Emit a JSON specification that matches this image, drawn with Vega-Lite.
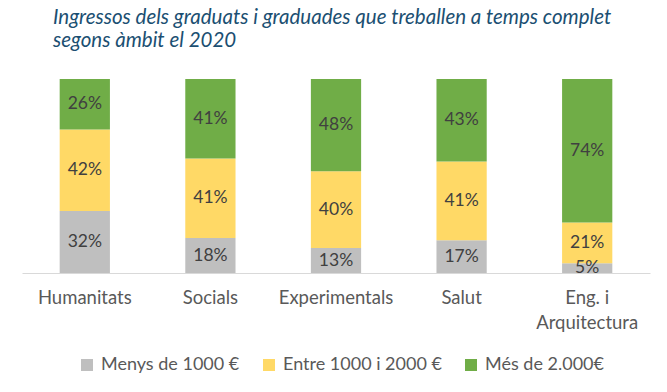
{
  "$schema": "https://vega.github.io/schema/vega-lite/v6.json",
  "width": 628,
  "height": 194,
  "autosize": {"type": "none"},
  "padding": {"left": 22, "top": 79, "right": 17, "bottom": 119},
  "background": "white",
  "config": {
    "font": "Lato",
    "view": {"stroke": null}
  },
  "title": {
    "text": ["Ingressos dels graduats i graduades que treballen a temps complet", "segons àmbit el 2020"],
    "anchor": "start",
    "frame": "group",
    "dx": 31,
    "offset": 28,
    "font": "Lato",
    "fontStyle": "italic",
    "fontWeight": "normal",
    "fontSize": 20.5,
    "lineHeight": 23,
    "color": "#1B4F72"
  },
  "data": {
    "values": [
      {"ambit": "Humanitats", "cat": "Menys de 1000 €", "ord": 1, "value": 0.32},
      {"ambit": "Humanitats", "cat": "Entre 1000 i 2000 €", "ord": 2, "value": 0.42},
      {"ambit": "Humanitats", "cat": "Més de 2.000€", "ord": 3, "value": 0.26},
      {"ambit": "Socials", "cat": "Menys de 1000 €", "ord": 1, "value": 0.18},
      {"ambit": "Socials", "cat": "Entre 1000 i 2000 €", "ord": 2, "value": 0.41},
      {"ambit": "Socials", "cat": "Més de 2.000€", "ord": 3, "value": 0.41},
      {"ambit": "Experimentals", "cat": "Menys de 1000 €", "ord": 1, "value": 0.13},
      {"ambit": "Experimentals", "cat": "Entre 1000 i 2000 €", "ord": 2, "value": 0.40},
      {"ambit": "Experimentals", "cat": "Més de 2.000€", "ord": 3, "value": 0.48},
      {"ambit": "Salut", "cat": "Menys de 1000 €", "ord": 1, "value": 0.17},
      {"ambit": "Salut", "cat": "Entre 1000 i 2000 €", "ord": 2, "value": 0.41},
      {"ambit": "Salut", "cat": "Més de 2.000€", "ord": 3, "value": 0.43},
      {"ambit": "Eng. i Arquitectura", "cat": "Menys de 1000 €", "ord": 1, "value": 0.05},
      {"ambit": "Eng. i Arquitectura", "cat": "Entre 1000 i 2000 €", "ord": 2, "value": 0.21},
      {"ambit": "Eng. i Arquitectura", "cat": "Més de 2.000€", "ord": 3, "value": 0.74}
    ]
  },
  "encoding": {
    "x": {
      "field": "ambit",
      "type": "nominal",
      "sort": ["Humanitats", "Socials", "Experimentals", "Salut", "Eng. i Arquitectura"],
      "scale": {"paddingInner": 0.6, "paddingOuter": 0.3},
      "axis": {
        "title": null,
        "labelAngle": 0,
        "ticks": false,
        "domainColor": "#D9D9D9",
        "domainWidth": 1,
        "labelFontSize": 18.5,
        "labelColor": "#595959",
        "labelPadding": 15,
        "labelLineHeight": 25,
        "labelExpr": "datum.label == 'Eng. i Arquitectura' ? ['Eng. i', 'Arquitectura'] : datum.label"
      }
    },
    "y": {
      "field": "value",
      "type": "quantitative",
      "stack": "normalize",
      "axis": null
    },
    "order": {"field": "ord", "type": "quantitative"}
  },
  "layer": [
    {
      "mark": {"type": "bar"},
      "encoding": {
        "color": {
          "field": "cat",
          "type": "nominal",
          "sort": ["Menys de 1000 €", "Entre 1000 i 2000 €", "Més de 2.000€"],
          "scale": {
            "domain": ["Menys de 1000 €", "Entre 1000 i 2000 €", "Més de 2.000€"],
            "range": ["#BFBFBF", "#FFD966", "#70AD47"]
          },
          "legend": {
            "title": null,
            "orient": "none",
            "legendX": 56,
            "legendY": 277,
            "direction": "horizontal",
            "symbolType": "square",
            "symbolSize": 144,
            "symbolStrokeWidth": 0,
            "labelFontSize": 18,
            "labelColor": "#595959",
            "columnPadding": 20,
            "labelOffset": 5
          }
        }
      }
    },
    {
      "mark": {"type": "text", "fontSize": 17.5, "color": "#404040"},
      "encoding": {
        "y": {
          "field": "value",
          "type": "quantitative",
          "stack": "normalize",
          "bandPosition": 0.5,
          "axis": null
        },
        "text": {"field": "value", "type": "quantitative", "format": ".0%"}
      }
    }
  ]
}
